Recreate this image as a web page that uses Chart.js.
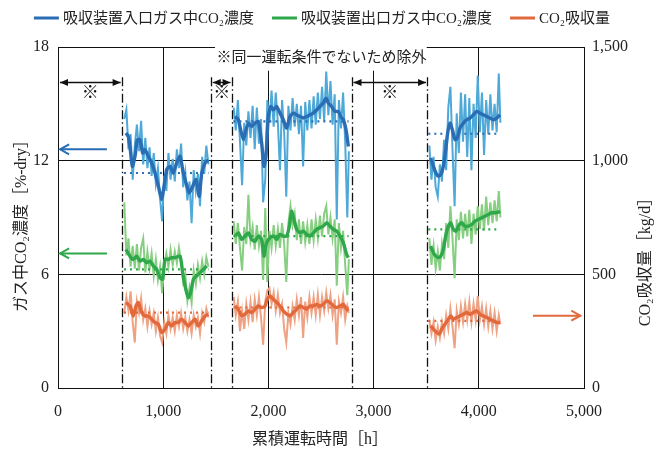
<!DOCTYPE html>
<html><head><meta charset="utf-8">
<script src="https://cdn.jsdelivr.net/npm/chart.js@4/dist/chart.umd.min.js"></script>
<style>html,body{margin:0;padding:0;background:#fff}</style>
</head><body>
<canvas id="c" width="662" height="454" style="display:block"></canvas>
<script>
// ---------- data ----------
const seriesNames = ['吸収装置入口ガス中CO₂濃度', '吸収装置出口ガス中CO₂濃度', 'CO₂吸収量'];
const xTicks = [0, 1000, 2000, 3000, 4000, 5000];
const leftTicks = [0, 6, 12, 18];
const rightTicks = [0, 500, 1000, 1500];

const seg1Hours = [630,650,670,690,710,730,750,770,790,810,830,850,870,890,910,930,950,970,990,1010,1030,1050,1070,1090,1110,1130,1150,1170,1190,1210,1230,1250,1270,1290,1310,1330,1350,1370,1390,1410,1430];
const seg2Hours = [1670,1690,1710,1730,1750,1770,1790,1810,1830,1850,1870,1890,1910,1930,1950,1970,1990,2010,2030,2050,2070,2090,2110,2130,2150,2170,2190,2210,2230,2250,2270,2290,2310,2330,2350,2370,2390,2410,2430,2450,2470,2490,2510,2530,2550,2570,2590,2610,2630,2650,2670,2690,2710,2730,2750,2765];
const seg3Hours = [3530,3550,3570,3590,3610,3630,3650,3670,3690,3710,3730,3750,3770,3790,3810,3830,3850,3870,3890,3910,3930,3950,3970,3990,4010,4030,4050,4070,4090,4110,4130,4150,4170,4190,4205];

const inletRaw1 = [14.2,14.7,12.6,13.4,11.0,12.8,13.9,12.5,14.1,11.8,13.2,11.6,12.7,11.2,12.4,10.8,11.6,10.0,8.8,11.2,10.4,12.4,11.0,12.1,10.9,12.6,11.6,12.9,10.6,11.4,9.9,10.9,8.7,11.5,10.4,11.3,9.6,12.2,11.3,12.8,11.8];
const inletRaw2 = [14.8,13.6,15.2,13.0,10.7,14.0,12.8,14.6,13.2,14.9,12.6,14.8,12.9,14.2,9.8,11.0,15.2,14.0,15.7,13.8,15.6,14.0,11.5,15.2,13.5,10.1,14.9,13.6,15.3,13.8,15.0,13.4,14.9,11.7,15.1,13.6,15.2,13.7,15.4,13.9,15.6,14.2,15.9,14.1,16.7,14.4,16.2,13.9,15.5,8.9,15.2,13.7,15.6,13.0,9.0,12.5];
const inletRaw3 = [12.8,11.0,12.2,10.6,10.1,11.8,10.9,13.1,11.5,14.8,15.9,12.6,9.6,14.5,12.4,15.6,13.0,15.5,12.2,15.3,11.5,15.0,13.2,16.5,13.5,15.6,12.3,15.2,13.4,15.5,13.6,15.0,13.5,16.6,14.0];

const outletRaw1 = [9.8,7.0,7.9,6.4,7.5,6.3,7.6,6.2,7.4,7.9,6.1,7.2,6.3,7.1,5.9,6.8,5.7,6.4,5.0,6.5,7.1,6.4,7.3,6.5,7.2,6.6,7.4,6.7,5.6,6.0,4.6,5.3,4.5,6.2,5.5,6.5,5.8,6.7,6.0,6.9,6.4];
const outletRaw2 = [8.8,7.6,8.7,7.4,6.2,8.5,7.6,10.2,7.8,8.5,7.3,8.6,7.5,8.3,5.7,9.5,5.6,8.3,7.4,8.6,7.5,8.4,7.4,8.7,7.6,5.6,8.7,9.6,8.6,9.2,7.8,8.9,7.6,8.8,7.7,8.6,7.6,8.9,7.8,8.9,7.9,9.1,8.0,9.2,9.6,8.1,9.0,7.9,8.9,5.4,8.7,7.4,8.3,6.5,4.9,6.8];
const outletRaw3 = [7.9,6.5,7.5,6.3,7.2,6.2,7.6,6.8,8.7,7.4,9.6,7.9,5.8,8.9,7.8,9.3,7.9,9.2,8.0,9.4,7.6,9.2,8.1,9.6,8.4,9.7,8.3,10.1,8.6,9.8,8.7,9.9,8.8,10.4,9.0];

const absorbRaw1 = [330,400,340,425,290,200,380,330,395,300,350,270,340,280,330,250,310,230,200,290,240,320,260,310,250,320,270,330,260,310,250,300,240,320,270,310,240,330,290,350,310];
const absorbRaw2 = [400,320,380,250,340,260,370,300,380,290,390,320,400,310,190,380,430,440,370,420,340,410,330,370,260,200,330,280,360,300,390,320,400,220,380,310,400,330,400,320,410,320,400,340,420,350,410,320,390,190,380,330,400,300,360,330];
const absorbRaw3 = [300,240,290,210,270,220,290,240,320,260,350,270,175,340,280,360,290,370,300,380,290,370,300,405,300,360,280,350,270,340,260,330,250,320,280];

const inletTrend1 = [[646,13.46],[669,13.28],[684,12.75],[707,11.70],[732,12.23],[754,13.1],[779,13.1],[805,12.4],[827,12.58],[859,12.23],[890,11.88],[922,11.35],[954,10.65],[985,9.95],[1008,10.65],[1033,11.53],[1065,11.70],[1096,11.35],[1128,11.88],[1160,12.23],[1191,11.35],[1217,10.82],[1248,10.30],[1280,10.65],[1312,11.0],[1343,10.12],[1366,11.35],[1398,11.88],[1429,12.05]];
const inletTrend2 = [[1683,14.33],[1714,14.16],[1736,13.63],[1762,13.11],[1787,13.63],[1809,13.98],[1841,13.81],[1873,13.98],[1904,14.07],[1936,12.93],[1958,11.70],[1977,12.23],[1999,14.33],[2022,14.86],[2047,14.68],[2079,14.86],[2110,14.51],[2142,14.16],[2174,13.72],[2205,14.33],[2237,14.51],[2269,14.42],[2300,14.33],[2332,14.25],[2364,14.33],[2395,14.42],[2427,14.51],[2459,14.68],[2490,14.86],[2522,15.04],[2548,15.30],[2570,15.04],[2601,14.86],[2633,14.6],[2665,14.6],[2687,14.33],[2712,14.16],[2738,13.63],[2760,12.75]];
const inletTrend3 = [[3542,12.14],[3568,11.70],[3593,11.35],[3615,11.18],[3638,11.26],[3663,11.70],[3685,12.58],[3704,13.46],[3726,13.98],[3749,13.63],[3774,13.11],[3796,13.19],[3821,13.72],[3853,13.98],[3885,14.16],[3916,14.25],[3948,14.42],[3980,14.6],[4011,14.51],[4043,14.42],[4075,14.33],[4106,14.25],[4138,14.16],[4170,14.25],[4202,14.42]];

const outletTrend1 = [[646,7.32],[684,6.96],[716,6.79],[748,6.96],[779,6.70],[811,6.79],[843,6.61],[875,6.70],[906,6.44],[938,6.26],[970,5.82],[995,5.74],[1017,6.79],[1049,6.79],[1081,6.88],[1112,6.88],[1160,6.96],[1185,6.09],[1207,5.39],[1239,4.77],[1261,5.04],[1287,5.74],[1318,5.91],[1350,6.09],[1382,6.26],[1413,6.44]];
const outletTrend2 = [[1683,8.02],[1714,8.19],[1746,7.84],[1778,8.02],[1809,8.19],[1841,7.84],[1873,7.75],[1904,8.02],[1936,7.84],[1958,6.96],[1983,7.67],[2015,7.93],[2047,8.02],[2079,7.84],[2110,8.11],[2142,8.02],[2174,8.02],[2199,8.54],[2221,9.33],[2243,8.89],[2269,8.37],[2300,8.19],[2332,8.28],[2364,8.11],[2395,8.02],[2427,8.19],[2459,8.37],[2490,8.46],[2522,8.54],[2554,8.72],[2586,8.54],[2617,8.37],[2649,8.28],[2681,8.02],[2712,7.67],[2744,7.05],[2760,6.88]];
const outletTrend3 = [[3542,7.49],[3568,7.14],[3593,6.96],[3615,6.88],[3638,6.96],[3663,7.32],[3685,8.02],[3711,8.54],[3733,8.72],[3758,8.37],[3783,8.28],[3805,8.54],[3837,8.72],[3869,8.54],[3900,8.54],[3932,8.63],[3964,8.81],[3995,8.89],[4027,8.98],[4059,9.07],[4091,9.16],[4122,9.25],[4154,9.25],[4186,9.28],[4202,9.33]];

const absorbTrend1 = [[646,376],[684,361],[716,317],[741,361],[764,376],[795,332],[827,317],[859,317],[890,303],[922,288],[954,281],[985,244],[1017,259],[1049,288],[1081,273],[1112,288],[1144,288],[1176,303],[1207,288],[1239,273],[1271,288],[1302,303],[1334,273],[1366,295],[1398,317],[1429,324]];
const absorbTrend2 = [[1683,361],[1714,347],[1746,317],[1778,325],[1809,339],[1841,332],[1873,347],[1904,361],[1936,354],[1968,361],[1990,390],[2015,405],[2047,390],[2079,376],[2110,361],[2142,339],[2174,325],[2205,317],[2237,332],[2269,347],[2300,361],[2332,354],[2364,347],[2395,361],[2427,361],[2459,368],[2490,361],[2522,368],[2554,383],[2586,376],[2617,361],[2649,354],[2681,361],[2712,368],[2744,347],[2760,339]];
const absorbTrend3 = [[3542,273],[3568,259],[3600,244],[3625,237],[3647,259],[3679,281],[3711,303],[3733,317],[3758,303],[3790,310],[3821,317],[3853,324],[3885,332],[3916,324],[3948,332],[3980,339],[4011,324],[4043,317],[4075,310],[4106,303],[4138,295],[4170,288],[4202,288]];

const inletAvg = [11.35, 14.07, 13.42];
const outletAvg = [6.26, 8.02, 8.37];
const absorbAvg = [332, 354, 295];
const avgSpans = [[627,1430],[1667,2762],[3520,4202]];

const excludeBounds = [605, 1452, 1650, 2790, 3508];
const excludedRanges = [[0,605],[1452,1650],[2790,3508]];
const noteText = '※同一運転条件でないため除外';
const inletMarker = 12.6, outletMarker = 7.1, absorbMarker = 318;

// ---------- styling ----------
const FONT = '"Liberation Serif", "Noto Sans CJK JP", serif';
const C = {
  inlet:  {dark:'#2a6db5', light:'#4ea9d8'},
  outlet: {dark:'#2fa84b', light:'#86cf80'},
  absorb: {dark:'#e2693c', light:'#eea283'}
};

const segHours = [seg1Hours, seg2Hours, seg3Hours];
const raws = {inlet:[inletRaw1,inletRaw2,inletRaw3], outlet:[outletRaw1,outletRaw2,outletRaw3], absorb:[absorbRaw1,absorbRaw2,absorbRaw3]};
const trends = {inlet:[inletTrend1,inletTrend2,inletTrend3], outlet:[outletTrend1,outletTrend2,outletTrend3], absorb:[absorbTrend1,absorbTrend2,absorbTrend3]};
const avgs = {inlet:inletAvg, outlet:outletAvg, absorb:absorbAvg};

const datasets = [];
const keys = ['inlet','outlet','absorb'];
keys.forEach(k => trends[k].forEach(t => datasets.push({
  data: t.map(p => ({x:p[0], y:p[1]})), yAxisID: k==='absorb'?'y2':'y',
  borderColor: C[k].dark, borderWidth: 3.4, tension: 0.2, pointRadius: 0, order: 1
})));
keys.forEach(k => avgs[k].forEach((v,i) => datasets.push({
  data: [{x:avgSpans[i][0], y:v},{x:avgSpans[i][1], y:v}], yAxisID: k==='absorb'?'y2':'y',
  borderColor: C[k].dark, borderWidth: 2.2, borderDash:[2,4], pointRadius: 0, order: 2
})));
keys.forEach(k => raws[k].forEach((r,i) => datasets.push({
  data: r.map((v,j) => ({x:segHours[i][j], y:v})), yAxisID: k==='absorb'?'y2':'y',
  borderColor: C[k].light, borderWidth: 2, pointRadius: 0, order: 3
})));

function arrowHead(ctx, x, y, dir, len, half, filled) {
  ctx.beginPath();
  ctx.moveTo(x + dir*len, y - half);
  ctx.lineTo(x, y);
  ctx.lineTo(x + dir*len, y + half);
  if (filled) { ctx.closePath(); ctx.fill(); } else ctx.stroke();
}

const overlay = {
  id: 'overlay',
  afterDatasetsDraw(chart) {
    const {ctx, chartArea: a, scales: {x, y, y2}} = chart;
    ctx.save();
    const bx0 = x.getPixelForValue(1492), bx1 = x.getPixelForValue(3505);
    ctx.fillStyle = '#fff';
    ctx.fillRect(bx0, a.top - 3, bx1 - bx0, y.getPixelForValue(16.75) - a.top + 3);
    ctx.fillStyle = '#222';
    ctx.font = '15px ' + FONT;
    ctx.textAlign = 'center'; ctx.textBaseline = 'middle';
    ctx.fillText(noteText, x.getPixelForValue(2505), y.getPixelForValue(17.4));

    ctx.strokeStyle = '#111'; ctx.lineWidth = 1.3;
    ctx.setLineDash([9,3,1.5,3]);
    excludeBounds.forEach(h => {
      const px = Math.round(x.getPixelForValue(h)) + 0.5;
      ctx.beginPath(); ctx.moveTo(px, y.getPixelForValue(16.4)); ctx.lineTo(px, a.bottom); ctx.stroke();
    });
    ctx.setLineDash([]);

    ctx.fillStyle = '#111'; ctx.lineWidth = 1.3;
    const ay = Math.round(y.getPixelForValue(16.15)) + 0.5;
    excludedRanges.forEach(r => {
      const p0 = x.getPixelForValue(r[0]) + 2, p1 = x.getPixelForValue(r[1]) - 1;
      ctx.beginPath(); ctx.moveTo(p0, ay); ctx.lineTo(p1, ay); ctx.stroke();
      arrowHead(ctx, p0, ay, 1, 8, 3.5, true);
      arrowHead(ctx, p1, ay, -1, 8, 3.5, true);
      ctx.font = '17px ' + FONT;
      ctx.fillText('※', (p0 + p1) / 2, y.getPixelForValue(15.55));
    });

    ctx.lineWidth = 2;
    [[C.inlet.dark, y.getPixelForValue(inletMarker)], [C.outlet.dark, y.getPixelForValue(outletMarker)]].forEach(([col, py]) => {
      ctx.strokeStyle = col;
      const xa = x.getPixelForValue(20), xb = x.getPixelForValue(465);
      ctx.beginPath(); ctx.moveTo(xa, py); ctx.lineTo(xb, py); ctx.stroke();
      arrowHead(ctx, xa, py, 1, 9, 5, false);
    });
    {
      ctx.strokeStyle = C.absorb.dark;
      const py = y2.getPixelForValue(absorbMarker);
      const xa = x.getPixelForValue(4515), xb = x.getPixelForValue(4965);
      ctx.beginPath(); ctx.moveTo(xa, py); ctx.lineTo(xb, py); ctx.stroke();
      arrowHead(ctx, xb, py, -1, 9, 5, false);
    }

    ctx.font = '15px ' + FONT;
    ctx.textAlign = 'left'; ctx.textBaseline = 'middle';
    const lineLen = 25, gap = 4, itemGap = 18;
    const widths = seriesNames.map(n => ctx.measureText(n).width);
    const total = widths.reduce((s, w) => s + lineLen + gap + w, 0) + itemGap * 2;
    let lx = 322 - total / 2;
    const ly = 18;
    keys.forEach((k, i) => {
      ctx.strokeStyle = C[k].dark; ctx.lineWidth = 3;
      ctx.beginPath(); ctx.moveTo(lx, ly); ctx.lineTo(lx + lineLen, ly); ctx.stroke();
      ctx.fillStyle = '#222';
      ctx.fillText(seriesNames[i], lx + lineLen + gap, ly + 1);
      lx += lineLen + gap + widths[i] + itemGap;
    });

    ctx.fillStyle = '#222';
    ctx.font = '16px ' + FONT;
    ctx.textAlign = 'center';
    ctx.fillText('累積運転時間［h］', 320, 440);
    ctx.save(); ctx.translate(22, 222); ctx.rotate(-Math.PI / 2);
    ctx.fillText('ガス中CO₂濃度［%-dry］', 0, 0); ctx.restore();
    ctx.save(); ctx.translate(646, 258); ctx.rotate(-Math.PI / 2);
    ctx.fillText('CO₂吸収量［kg/d］', 0, 0); ctx.restore();
    ctx.restore();
  }
};

const fmt = v => Number(v).toLocaleString('en-US');
new Chart(document.getElementById('c'), {
  type: 'line',
  data: { datasets },
  options: {
    responsive: false, animation: false, parsing: true,
    layout: { padding: { top: 47, left: 0, right: 0, bottom: 0 } },
    plugins: { legend: { display: false }, tooltip: { enabled: false } },
    scales: {
      x: {
        type: 'linear', min: xTicks[0], max: xTicks[xTicks.length-1],
        afterBuildTicks: s => { s.ticks = xTicks.map(v => ({value: v})); },
        afterFit: s => { s.height = 66; },
        grid: { color: '#111', lineWidth: 1, drawTicks: false },
        border: { color: '#111', width: 1 },
        ticks: { padding: 14, color: '#222', font: { family: FONT, size: 16 }, callback: v => fmt(v), maxRotation: 0 }
      },
      y: {
        position: 'left', min: leftTicks[0], max: leftTicks[leftTicks.length-1],
        afterBuildTicks: s => { s.ticks = leftTicks.map(v => ({value: v})); },
        afterFit: s => { s.width = 58; },
        grid: { color: '#111', lineWidth: 1, drawTicks: false },
        border: { color: '#111', width: 1 },
        ticks: { padding: 9, color: '#222', font: { family: FONT, size: 16 } }
      },
      y2: {
        position: 'right', min: rightTicks[0], max: rightTicks[rightTicks.length-1],
        afterBuildTicks: s => { s.ticks = rightTicks.map(v => ({value: v})); },
        afterFit: s => { s.width = 78; },
        grid: { display: false, drawTicks: false },
        border: { color: '#111', width: 1 },
        ticks: { padding: 8, color: '#222', font: { family: FONT, size: 16 }, callback: v => fmt(v) }
      }
    }
  },
  plugins: [overlay]
});
</script>
</body></html>
